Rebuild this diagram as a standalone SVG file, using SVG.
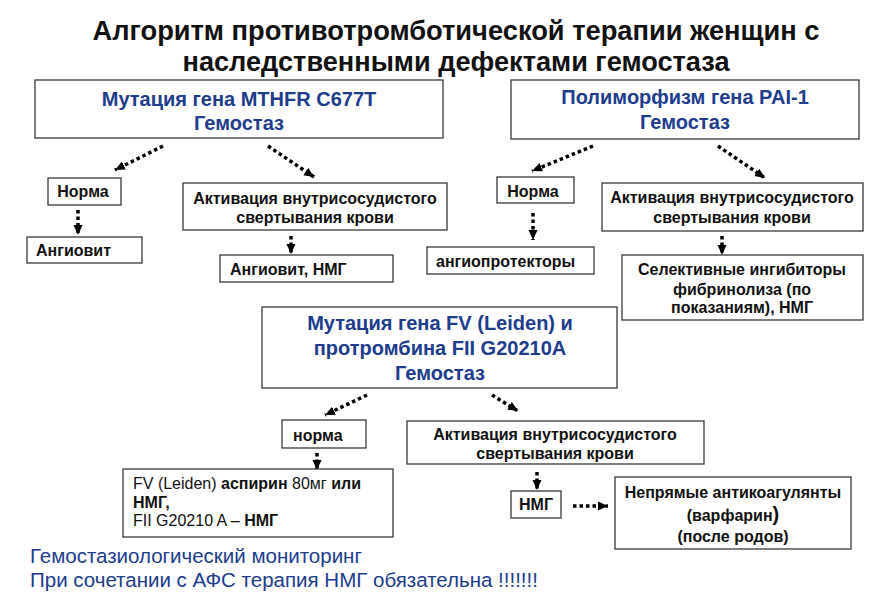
<svg xmlns="http://www.w3.org/2000/svg" width="884" height="612" viewBox="0 0 884 612">
<style>
.box{fill:#fff;stroke:#3a3a3a;stroke-width:1.3}
.t{font-family:"Liberation Sans",Arial,sans-serif;font-size:16px;font-weight:bold;fill:#111}
.h{font-family:"Liberation Sans",Arial,sans-serif;font-size:20px;font-weight:bold;fill:#203c8c;text-anchor:middle}
.c{text-anchor:middle}
.title{font-family:"Liberation Sans Narrow","Liberation Sans",Arial,sans-serif;font-size:28px;font-weight:bold;fill:#111;text-anchor:middle}
.note{font-family:"Liberation Sans",Arial,sans-serif;font-size:20.5px;fill:#203c8c}
.r{font-weight:normal}
.con{fill:none;stroke:#000;stroke-width:3.5;stroke-dasharray:3.5 3;marker-end:url(#ah)}
</style>
<defs>
<marker id="ah" markerUnits="userSpaceOnUse" markerWidth="11" markerHeight="10" refX="10" refY="5" orient="auto">
<path d="M0,0.5 L10,5 L0,9.5 z" fill="#000"/>
</marker>
</defs>
<rect width="884" height="612" fill="#fff"/>
<g id="title">
<text class="title" x="456" y="40" textLength="727" lengthAdjust="spacingAndGlyphs">Алгоритм противотромботической терапии женщин с</text>
<text class="title" x="456" y="71" textLength="547" lengthAdjust="spacingAndGlyphs">наследственными дефектами гемостаза</text>
</g>
<g id="connectors">
<path class="con" d="M163,146 L115,170"/>
<path class="con" d="M268,146 L314,177"/>
<path class="con" d="M78,210 L78,235"/>
<path class="con" d="M291,236 L291,254"/>
<path class="con" d="M593,146 L532,171"/>
<path class="con" d="M718,146 L765,178"/>
<path class="con" d="M533,213 L533,240"/>
<path class="con" d="M722,236 L722,255"/>
<path class="con" d="M367,395 L325,415"/>
<path class="con" d="M492,395 L518,411"/>
<path class="con" d="M317,453 L317,470"/>
<path class="con" d="M537,472 L537,490"/>
<path class="con" d="M573,506 L608,506"/>
</g>
<g id="n-mthfr">
<rect class="box" x="35" y="80" width="408" height="58"/>
<text class="h" x="239" y="106">Мутация гена MTHFR C677T</text>
<text class="h" x="239" y="130">Гемостаз</text>
</g>
<g id="n-pai">
<rect class="box" x="511" y="80" width="348" height="59"/>
<text class="h" x="685" y="104">Полиморфизм гена PAI-1</text>
<text class="h" x="685" y="129">Гемостаз</text>
</g>
<g id="n-norma1">
<rect class="box" x="48" y="178" width="73" height="27"/>
<text class="t c" x="83" y="197">Норма</text>
</g>
<g id="n-angiovit">
<rect class="box" x="27" y="237" width="115" height="26"/>
<text class="t" x="36" y="256">Ангиовит</text>
</g>
<g id="n-activ1">
<rect class="box" x="183" y="183" width="264" height="47"/>
<text class="t c" x="315" y="204">Активация внутрисосудистого</text>
<text class="t c" x="315" y="223">свертывания крови</text>
</g>
<g id="n-angiovit-nmg">
<rect class="box" x="220" y="255" width="173" height="27"/>
<text class="t" x="230" y="275">Ангиовит, НМГ</text>
</g>
<g id="n-norma2">
<rect class="box" x="497" y="177" width="77" height="26"/>
<text class="t c" x="533" y="197">Норма</text>
</g>
<g id="n-angioprot">
<rect class="box" x="427" y="247" width="167" height="27"/>
<text class="t" x="436" y="267">ангиопротекторы</text>
</g>
<g id="n-activ2">
<rect class="box" x="602" y="183" width="261" height="48"/>
<text class="t c" x="732" y="203">Активация внутрисосудистого</text>
<text class="t c" x="732" y="223">свертывания крови</text>
</g>
<g id="n-selective">
<rect class="box" x="622" y="255" width="241" height="65"/>
<text class="t c" x="742" y="275">Селективные ингибиторы</text>
<text class="t c" x="742" y="295">фибринолиза (по</text>
<text class="t c" x="742" y="313">показаниям), НМГ</text>
</g>
<g id="n-fv">
<rect class="box" x="262" y="307" width="355" height="81"/>
<text class="h" x="440" y="330">Мутация гена FV (Leiden) и</text>
<text class="h" x="440" y="355">протромбина FII G20210A</text>
<text class="h" x="440" y="380">Гемостаз</text>
</g>
<g id="n-norma3">
<rect class="box" x="282" y="420" width="84" height="28"/>
<text class="t" x="293" y="441">норма</text>
</g>
<g id="n-aspirin">
<rect class="box" x="123" y="469" width="270" height="68"/>
<text class="t" x="133" y="489"><tspan class="r">FV (Leiden) </tspan>аспирин <tspan class="r"> 80мг</tspan> или</text>
<text class="t" x="133" y="508">НМГ,</text>
<text class="t" x="133" y="526"><tspan class="r">FII G20210 A – </tspan>НМГ</text>
</g>
<g id="n-activ3">
<rect class="box" x="407" y="421" width="297" height="43"/>
<text class="t c" x="555" y="440">Активация внутрисосудистого</text>
<text class="t c" x="555" y="459">свертывания крови</text>
</g>
<g id="n-nmg">
<rect class="box" x="511" y="491" width="50" height="27" stroke="#777"/>
<text class="t c" x="536" y="510">НМГ</text>
</g>
<g id="n-indirect">
<rect class="box" x="615" y="477" width="236" height="72"/>
<text class="t c" x="733" y="498">Непрямые антикоагулянты</text>
<text class="t c" x="733" y="521">(варфарин<tspan font-size="20">)</tspan></text>
<text class="t c" x="733" y="542">(после родов)</text>
</g>
<g id="notes">
<text class="note" x="30" y="563">Гемостазиологический мониторинг</text>
<text class="note" x="30" y="587">При сочетании с АФС терапия НМГ обязательна !!!!!!!</text>
</g>
</svg>
